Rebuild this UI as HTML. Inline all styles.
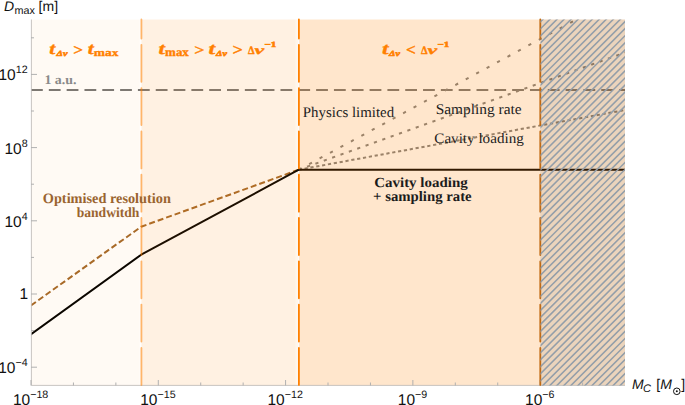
<!DOCTYPE html>
<html><head><meta charset="utf-8">
<style>
html,body{margin:0;padding:0;background:#fff;width:685px;height:405px;overflow:hidden}
svg{display:block;text-rendering:geometricPrecision}
text{font-family:"Liberation Sans",sans-serif}
</style></head><body>
<svg width="685" height="405" viewBox="0 0 685 405">
<defs>
<clipPath id="plot"><rect x="31.0" y="19.5" width="594.0" height="366.0"/></clipPath>
<clipPath id="hz"><rect x="540.5" y="19.5" width="84.50000000000004" height="366.0"/></clipPath>
</defs>

<g clip-path="url(#plot)">
<line x1="31.0" y1="90" x2="625.0" y2="90" stroke="#787878" stroke-width="2" stroke-dasharray="11.8 6.02"/>
<line x1="298.8" y1="169.7" x2="630.0" y2="-9.5" stroke="#828282" stroke-width="2" stroke-dasharray="3.2 8.67" stroke-dashoffset="0.09999999999999998"/>
<line x1="298.8" y1="169.7" x2="630.0" y2="50.8" stroke="#828282" stroke-width="2" stroke-dasharray="3.2 5.68" stroke-dashoffset="0.09999999999999998"/>
<line x1="298.8" y1="169.7" x2="630.0" y2="109.1" stroke="#828282" stroke-width="2" stroke-dasharray="3.2 2.74" stroke-dashoffset="0.09999999999999998"/>
<polyline points="25,309.79 141.2,226.70000000000002 298.8,169.7" fill="none" stroke="#a5692a" stroke-width="2" stroke-dasharray="6 3" stroke-dashoffset="1.62"/>
<polyline points="25,338.63 141.2,254.70000000000002 298.8,169.7 628.0,169.7" fill="none" stroke="#000" stroke-width="2" stroke-linejoin="round"/>
</g>
<rect x="31.0" y="19.5" width="108.80000000000001" height="366.0" fill="#ff8000" fill-opacity="0.042"/>
<rect x="141.4" y="19.5" width="154.20000000000002" height="366.0" fill="#ff8000" fill-opacity="0.115"/>
<rect x="295.6" y="19.5" width="2.4" height="366.0" fill="#ff8000" fill-opacity="0.075"/>
<rect x="298.9" y="19.5" width="326.1" height="366.0" fill="#ff8000" fill-opacity="0.2"/>
<rect x="540.3" y="19.5" width="84.70000000000005" height="366.0" fill="#000" fill-opacity="0.08"/>
<path d="M31.4,19.5V385.4H625.0" stroke="#c2bebb" stroke-width="0.9" fill="none"/>
<path d="M31.00,385.5v-5.5M73.43,385.5v-3M115.86,385.5v-3M158.29,385.5v-5.5M200.72,385.5v-3M243.15,385.5v-3M285.58,385.5v-5.5M328.01,385.5v-3M370.44,385.5v-3M412.87,385.5v-5.5M455.30,385.5v-3M497.73,385.5v-3M540.16,385.5v-5.5M582.59,385.5v-3M31.0,367.20h6M31.0,330.60h3M31.0,294.00h6M31.0,257.40h3M31.0,220.80h6M31.0,184.20h3M31.0,147.60h6M31.0,111.00h3M31.0,74.40h6M31.0,37.80h3" stroke="#b0b0b0" stroke-width="1" fill="none"/>
<line x1="141.4" y1="19.5" x2="141.4" y2="385.5" stroke="#ff8000" stroke-opacity="0.56" stroke-width="1.8" stroke-linecap="round" stroke-dasharray="37 6.3" stroke-dashoffset="18"/>
<line x1="298.9" y1="19.5" x2="298.9" y2="385.5" stroke="#ff8000" stroke-opacity="1" stroke-width="1.8" stroke-linecap="round" stroke-dasharray="37 6.3" stroke-dashoffset="18"/>
<line x1="540.3" y1="19.5" x2="540.3" y2="385.5" stroke="#c26a12" stroke-opacity="1" stroke-width="1.8" stroke-linecap="round" stroke-dasharray="37 6.3" stroke-dashoffset="18"/>
<path clip-path="url(#hz)" d="M157.62,390.5L533.62,14.5M164.66,390.5L540.66,14.5M171.70,390.5L547.70,14.5M178.74,390.5L554.74,14.5M185.78,390.5L561.78,14.5M192.82,390.5L568.82,14.5M199.86,390.5L575.86,14.5M206.90,390.5L582.90,14.5M213.94,390.5L589.94,14.5M220.98,390.5L596.98,14.5M228.02,390.5L604.02,14.5M235.06,390.5L611.06,14.5M242.10,390.5L618.10,14.5M249.14,390.5L625.14,14.5M256.18,390.5L632.18,14.5M263.22,390.5L639.22,14.5M270.26,390.5L646.26,14.5M277.30,390.5L653.30,14.5M284.34,390.5L660.34,14.5M291.38,390.5L667.38,14.5M298.42,390.5L674.42,14.5M305.46,390.5L681.46,14.5M312.50,390.5L688.50,14.5M319.54,390.5L695.54,14.5M326.58,390.5L702.58,14.5M333.62,390.5L709.62,14.5M340.66,390.5L716.66,14.5M347.70,390.5L723.70,14.5M354.74,390.5L730.74,14.5M361.78,390.5L737.78,14.5M368.82,390.5L744.82,14.5M375.86,390.5L751.86,14.5M382.90,390.5L758.90,14.5M389.94,390.5L765.94,14.5M396.98,390.5L772.98,14.5M404.02,390.5L780.02,14.5M411.06,390.5L787.06,14.5M418.10,390.5L794.10,14.5M425.14,390.5L801.14,14.5M432.18,390.5L808.18,14.5M439.22,390.5L815.22,14.5M446.26,390.5L822.26,14.5M453.30,390.5L829.30,14.5M460.34,390.5L836.34,14.5M467.38,390.5L843.38,14.5M474.42,390.5L850.42,14.5M481.46,390.5L857.46,14.5M488.50,390.5L864.50,14.5M495.54,390.5L871.54,14.5M502.58,390.5L878.58,14.5M509.62,390.5L885.62,14.5M516.66,390.5L892.66,14.5M523.70,390.5L899.70,14.5M530.74,390.5L906.74,14.5M537.78,390.5L913.78,14.5M544.82,390.5L920.82,14.5M551.86,390.5L927.86,14.5M558.90,390.5L934.90,14.5M565.94,390.5L941.94,14.5M572.98,390.5L948.98,14.5M580.02,390.5L956.02,14.5M587.06,390.5L963.06,14.5M594.10,390.5L970.10,14.5M601.14,390.5L977.14,14.5M608.18,390.5L984.18,14.5M615.22,390.5L991.22,14.5M622.26,390.5L998.26,14.5" stroke="#939ea9" stroke-width="1.55" fill="none"/>
<text transform="translate(49.36,53.54) scale(1.303,1)" font-size="16.49" style="font-family:'Liberation Serif';font-weight:bold;font-style:italic" fill="#ff8000" stroke="#ff8000" stroke-width="0.35">t</text>
<text transform="translate(56.51,56.22) scale(1.274,1)" font-size="8.06" style="font-family:'Liberation Serif';font-weight:bold;font-style:italic" fill="#ff8000" stroke="#ff8000" stroke-width="0.6">Δν</text>
<text transform="translate(73.14,55.23) scale(1.119,1)" font-size="15.4" style="font-family:'Liberation Serif';font-weight:bold;font-style:normal" fill="#ff8000" stroke="#ff8000" stroke-width="0.35">&gt;</text>
<text transform="translate(87.66,53.54) scale(1.303,1)" font-size="16.49" style="font-family:'Liberation Serif';font-weight:bold;font-style:italic" fill="#ff8000" stroke="#ff8000" stroke-width="0.35">t</text>
<text transform="translate(93.8,56.19) scale(1.265,1)" font-size="10.63" style="font-family:'Liberation Serif';font-weight:bold;font-style:normal" fill="#ff8000" stroke="#ff8000" stroke-width="0.35">max</text>
<text transform="translate(158.61,53.84) scale(1.407,1)" font-size="16.32" style="font-family:'Liberation Serif';font-weight:bold;font-style:italic" fill="#ff8000" stroke="#ff8000" stroke-width="0.35">t</text>
<text transform="translate(165.11,56.48) scale(1.071,1)" font-size="12.08" style="font-family:'Liberation Serif';font-weight:bold;font-style:normal" fill="#ff8000" stroke="#ff8000" stroke-width="0.35">max</text>
<text transform="translate(194.31,55.22) scale(1.176,1)" font-size="15.2" style="font-family:'Liberation Serif';font-weight:bold;font-style:normal" fill="#ff8000" stroke="#ff8000" stroke-width="0.35">&gt;</text>
<text transform="translate(208.49,53.84) scale(1.453,1)" font-size="16.32" style="font-family:'Liberation Serif';font-weight:bold;font-style:italic" fill="#ff8000" stroke="#ff8000" stroke-width="0.35">t</text>
<text transform="translate(216.11,56.02) scale(1.287,1)" font-size="7.91" style="font-family:'Liberation Serif';font-weight:bold;font-style:italic" fill="#ff8000" stroke="#ff8000" stroke-width="0.6">Δν</text>
<text transform="translate(232.4,55.18) scale(1.13,1)" font-size="16.0" style="font-family:'Liberation Serif';font-weight:bold;font-style:normal" fill="#ff8000" stroke="#ff8000" stroke-width="0.35">&gt;</text>
<text transform="translate(248.0,53.9) scale(0.924,1)" font-size="11.36" style="font-family:'Liberation Serif';font-weight:bold;font-style:normal" fill="#ff8000" stroke="#ff8000" stroke-width="0.35">Δ</text>
<text transform="translate(254.48,53.78) scale(1.768,1)" font-size="12.34" style="font-family:'Liberation Serif';font-weight:bold;font-style:italic" fill="#ff8000" stroke="#ff8000" stroke-width="0.35">ν</text>
<text transform="translate(264.55,47.3) scale(1.4,1)" font-size="7.88" style="font-family:'Liberation Serif';font-weight:bold;font-style:normal" fill="#ff8000" stroke="#ff8000" stroke-width="0.6">−1</text>
<text transform="translate(382.1,53.84) scale(1.43,1)" font-size="16.32" style="font-family:'Liberation Serif';font-weight:bold;font-style:italic" fill="#ff8000" stroke="#ff8000" stroke-width="0.35">t</text>
<text transform="translate(389.11,56.02) scale(1.287,1)" font-size="7.91" style="font-family:'Liberation Serif';font-weight:bold;font-style:italic" fill="#ff8000" stroke="#ff8000" stroke-width="0.6">Δν</text>
<text transform="translate(406.04,55.18) scale(1.073,1)" font-size="16.0" style="font-family:'Liberation Serif';font-weight:bold;font-style:normal" fill="#ff8000" stroke="#ff8000" stroke-width="0.35">&lt;</text>
<text transform="translate(420.99,53.9) scale(0.924,1)" font-size="11.36" style="font-family:'Liberation Serif';font-weight:bold;font-style:normal" fill="#ff8000" stroke="#ff8000" stroke-width="0.35">Δ</text>
<text transform="translate(427.48,53.78) scale(1.768,1)" font-size="12.34" style="font-family:'Liberation Serif';font-weight:bold;font-style:italic" fill="#ff8000" stroke="#ff8000" stroke-width="0.35">ν</text>
<text transform="translate(437.55,47.3) scale(1.4,1)" font-size="7.88" style="font-family:'Liberation Serif';font-weight:bold;font-style:normal" fill="#ff8000" stroke="#ff8000" stroke-width="0.6">−1</text>
<text transform="translate(44.39,83.87) scale(1.058,1)" font-size="13.13" style="font-family:'Liberation Serif';font-weight:bold;font-style:normal" fill="#8a8a8a">1 a.u.</text>
<text transform="translate(302.85,116.52) scale(1.014,1)" font-size="14.67" style="font-family:'Liberation Serif';font-weight:normal;font-style:normal" fill="#1c1c1c">Physics limited</text>
<text transform="translate(435.72,113.7) scale(1.042,1)" font-size="14.78" style="font-family:'Liberation Serif';font-weight:normal;font-style:normal" fill="#1c1c1c">Sampling rate</text>
<text transform="translate(434.29,142.57) scale(1.048,1)" font-size="14.44" style="font-family:'Liberation Serif';font-weight:normal;font-style:normal" fill="#1c1c1c">Cavity loading</text>
<text transform="translate(374.25,186.63) scale(1.071,1)" font-size="13.96" style="font-family:'Liberation Serif';font-weight:bold;font-style:normal" fill="#1c1c1c">Cavity loading</text>
<text transform="translate(373.06,201.16) scale(1.033,1)" font-size="14.29" style="font-family:'Liberation Serif';font-weight:bold;font-style:normal" fill="#1c1c1c">+ sampling rate</text>
<text transform="translate(42.78,202.57) scale(0.991,1)" font-size="14.44" style="font-family:'Liberation Serif';font-weight:bold;font-style:normal" fill="#9a6430">Optimised resolution</text>
<text transform="translate(76.66,216.96) scale(0.971,1)" font-size="14.0" style="font-family:'Liberation Serif';font-weight:bold;font-style:normal" fill="#9a6430">bandwitdh</text>
<text x="27.6" y="80.4" font-size="15.5" text-anchor="end" fill="#111">10<tspan dy="-7.1" font-size="10.7">12</tspan></text>
<text x="27.6" y="153.6" font-size="15.5" text-anchor="end" fill="#111">10<tspan dy="-7.1" font-size="10.7">8</tspan></text>
<text x="27.6" y="226.8" font-size="15.5" text-anchor="end" fill="#111">10<tspan dy="-7.1" font-size="10.7">4</tspan></text>
<text x="28.2" y="298.8" font-size="15.5" text-anchor="end" fill="#111">1</text>
<text x="27.6" y="373.2" font-size="15.5" text-anchor="end" fill="#111">10<tspan dy="-7.1" font-size="10.7">−4</tspan></text>
<text x="30.6" y="404.6" font-size="15.5" text-anchor="middle" fill="#111">10<tspan dy="-7.1" font-size="10.7">−18</tspan></text>
<text x="157.9" y="404.6" font-size="15.5" text-anchor="middle" fill="#111">10<tspan dy="-7.1" font-size="10.7">−15</tspan></text>
<text x="285.2" y="404.6" font-size="15.5" text-anchor="middle" fill="#111">10<tspan dy="-7.1" font-size="10.7">−12</tspan></text>
<text x="412.5" y="404.6" font-size="15.5" text-anchor="middle" fill="#111">10<tspan dy="-7.1" font-size="10.7">−9</tspan></text>
<text x="539.8" y="404.6" font-size="15.5" text-anchor="middle" fill="#111">10<tspan dy="-7.1" font-size="10.7">−6</tspan></text>
<text x="4" y="10.6" font-size="14" fill="#111"><tspan font-style="italic">D</tspan><tspan x="14.6" dy="3.1" font-size="10.8">max</tspan><tspan x="38.6" dy="-3.1">[m]</tspan></text>
<text x="632" y="389" font-size="14" fill="#111"><tspan font-style="italic">M</tspan><tspan x="643" dy="2.6" font-size="11" font-style="italic">C</tspan><tspan x="656.3" dy="-2.6">[</tspan><tspan x="660.3" font-style="italic">M</tspan><tspan x="681.3">]</tspan></text>
<circle cx="676.8" cy="391.3" r="3.3" fill="none" stroke="#111" stroke-width="1"/><circle cx="676.8" cy="391.3" r="1" fill="#111"/>
</svg></body></html>
